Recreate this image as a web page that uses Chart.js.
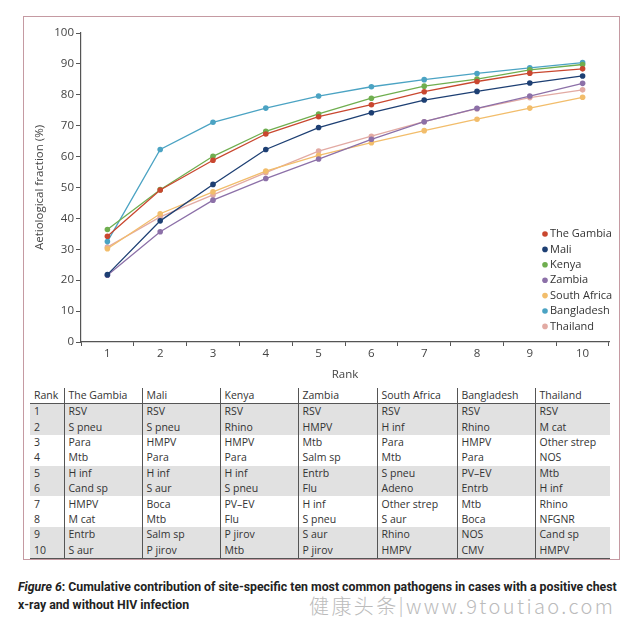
<!DOCTYPE html>
<html>
<head>
<meta charset="utf-8">
<script src="https://cdn.jsdelivr.net/npm/chart.js@4.4.1/dist/chart.umd.min.js"></script>
<style>
  html, body { margin: 0; padding: 0; background: #fff; }
  body { width: 640px; height: 617px; position: relative; overflow: hidden; font-family: "Open Sans", "Noto Sans", sans-serif; }
  #frame { position: absolute; left: 23px; top: 16px; width: 597px; height: 544px; border: 1px solid #c59aa2; box-sizing: border-box; }
  #chartCanvas { position: absolute; left: 0; top: 0; }
  #tbl { position: absolute; left: 30px; top: 388px; width: 580px; border-collapse: collapse; table-layout: fixed; font-size: 10.5px; color: #333; }
  #tbl th, #tbl td { padding: 0 0 0 4px; text-align: left; font-weight: normal; white-space: nowrap; line-height: 15px; }
  #tbl th { height: 15px; border-bottom: 1px solid #555; }
  #tbl td { height: 15.4px; }
  #tbl th + th, #tbl td + td { border-left: 1px solid #555; }
  #tbl tr.g td { background: #e1e1e1; }
  #tbl tr.last td { border-bottom: 1.5px solid #555; }
  #caption { position: absolute; left: 18px; top: 578px; width: 630px; font-family: "Roboto", sans-serif; font-weight: bold; font-size: 12.3px; line-height: 18px; color: #222; white-space: nowrap; }
  #caption i { font-style: italic; }
  #wm { position: absolute; left: 309px; top: 591px; font-family: "Noto Sans CJK SC", sans-serif; font-size: 20px; color: #bbbbbb; font-weight: 300; letter-spacing: 2.4px; white-space: nowrap; }
</style>
</head>
<body>
<div id="frame"></div>
<canvas id="chartCanvas" width="640" height="385"></canvas>
<table id="tbl"></table>
<div id="caption"><i>Figure 6</i>: Cumulative contribution of site-specific ten most common pathogens in cases with a positive chest<br>x-ray and without HIV infection</div>
<div id="wm">健康头条|www.9toutiao.com</div>
<script>
// ---- data ----
const ranks = ["1", "2", "3", "4", "5", "6", "7", "8", "9", "10"];
const countries = ["The Gambia", "Mali", "Kenya", "Zambia", "South Africa", "Bangladesh", "Thailand"];
const gambiaValues     = [34.2, 49.2, 58.8, 67.3, 72.9, 76.8, 81.0, 84.3, 87.0, 88.4];
const maliValues       = [21.8, 39.2, 51.0, 62.3, 69.4, 74.2, 78.3, 81.1, 83.8, 86.1];
const kenyaValues      = [36.4, 49.3, 60.1, 68.2, 73.8, 78.9, 82.8, 85.1, 88.1, 89.8];
const zambiaValues     = [21.6, 35.7, 45.9, 52.9, 59.2, 65.6, 71.3, 75.6, 79.6, 83.7];
const southAfricaValues= [30.2, 41.5, 48.6, 55.3, 60.4, 64.5, 68.4, 72.1, 75.7, 79.2];
const bangladeshValues = [32.5, 62.3, 71.1, 75.7, 79.6, 82.6, 84.9, 86.9, 88.7, 90.4];
const thailandValues   = [30.7, 40.5, 47.6, 54.8, 61.8, 66.6, 71.3, 75.5, 79.1, 81.6];
const yTicks = [0, 10, 20, 30, 40, 50, 60, 70, 80, 90, 100];

const tableHeader = ["Rank", "The Gambia", "Mali", "Kenya", "Zambia", "South Africa", "Bangladesh", "Thailand"];
const gambiaPathogens     = ["RSV", "S pneu", "Para", "Mtb", "H inf", "Cand sp", "HMPV", "M cat", "Entrb", "S aur"];
const maliPathogens       = ["RSV", "S pneu", "HMPV", "Para", "H inf", "S aur", "Boca", "Mtb", "Salm sp", "P jirov"];
const kenyaPathogens      = ["RSV", "Rhino", "HMPV", "Para", "H inf", "S pneu", "PV–EV", "Flu", "P jirov", "Mtb"];
const zambiaPathogens     = ["RSV", "HMPV", "Mtb", "Salm sp", "Entrb", "Flu", "H inf", "S pneu", "S aur", "P jirov"];
const southAfricaPathogens= ["RSV", "H inf", "Para", "Mtb", "S pneu", "Adeno", "Other strep", "S aur", "Rhino", "HMPV"];
const bangladeshPathogens = ["RSV", "Rhino", "HMPV", "Para", "PV–EV", "Entrb", "Mtb", "Boca", "NOS", "CMV"];
const thailandPathogens   = ["RSV", "M cat", "Other strep", "NOS", "Mtb", "H inf", "Rhino", "NFGNR", "Cand sp", "HMPV"];

// ---- table ----
const tbl = document.getElementById('tbl');
const colW = [34, 78, 78, 78, 79, 80, 78, 75];
const cg = document.createElement('colgroup');
colW.forEach(w => { const c = document.createElement('col'); c.style.width = w + 'px'; cg.appendChild(c); });
tbl.appendChild(cg);
const hr = document.createElement('tr');
tableHeader.forEach(h => { const th = document.createElement('th'); th.textContent = h; hr.appendChild(th); });
tbl.appendChild(hr);
const cols = [gambiaPathogens, maliPathogens, kenyaPathogens, zambiaPathogens, southAfricaPathogens, bangladeshPathogens, thailandPathogens];
const shaded = [true, true, false, false, true, true, false, false, true, true];
ranks.forEach((r, i) => {
  const tr = document.createElement('tr');
  if (shaded[i]) tr.classList.add('g');
  if (i === ranks.length - 1) tr.classList.add('last');
  const td0 = document.createElement('td'); td0.textContent = r; tr.appendChild(td0);
  cols.forEach(c => { const td = document.createElement('td'); td.textContent = c[i]; tr.appendChild(td); });
  tbl.appendChild(tr);
});

// ---- chart ----
const colors = ["#c9472f", "#1d3f73", "#6fae4f", "#8c70a8", "#f2bd6b", "#4ba3c3", "#e2aaa3"];
const series = [gambiaValues, maliValues, kenyaValues, zambiaValues, southAfricaValues, bangladeshValues, thailandValues];

const datasets = countries.map((c, i) => ({
  label: c,
  data: series[i],
  borderColor: colors[i],
  backgroundColor: colors[i],
  pointBackgroundColor: colors[i],
  pointBorderColor: colors[i],
  pointRadius: 2.8,
  pointBorderWidth: 0,
  borderWidth: 1.3,
  tension: 0
}));

const legendPlugin = {
  id: 'insideLegend',
  afterDraw(chart) {
    const ctx = chart.ctx;
    const a = chart.chartArea;
    const x0 = a.right - 64;
    let y = a.bottom - 108;
    ctx.save();
    ctx.font = '11px "Open Sans", sans-serif';
    ctx.textBaseline = 'middle';
    ctx.textAlign = 'left';
    chart.data.datasets.forEach(ds => {
      ctx.fillStyle = ds.borderColor;
      ctx.beginPath();
      ctx.arc(x0, y, 2.8, 0, Math.PI * 2);
      ctx.fill();
      ctx.fillStyle = '#333';
      ctx.fillText(ds.label, x0 + 5, y);
      y += 15.4;
    });
    ctx.restore();
  }
};

new Chart(document.getElementById('chartCanvas'), {
  type: 'line',
  data: { labels: ranks, datasets: datasets },
  options: {
    responsive: false,
    animation: false,
    devicePixelRatio: 1,
    layout: { padding: { left: 29, right: 31, top: 33, bottom: 3 } },
    plugins: { legend: { display: false }, tooltip: { enabled: false } },
    scales: {
      x: {
        type: 'category',
        offset: true,
        grid: { display: true, offset: true, drawOnChartArea: false, drawTicks: true, tickLength: 4, color: '#555' },
        border: { color: '#555', width: 1.2 },
        ticks: { color: '#444', font: { family: '"Open Sans", sans-serif', size: 11.5 }, padding: 1, maxRotation: 0 },
        title: { display: true, text: 'Rank', color: '#444', font: { family: '"Open Sans", sans-serif', size: 11.5 }, padding: { top: 3, bottom: 0 } },
        afterFit(s) { s.height = 40; }
      },
      y: {
        min: 0, max: 100,
        afterBuildTicks(s) { s.ticks = yTicks.map(v => ({ value: v })); },
        grid: { display: true, drawOnChartArea: false, drawTicks: true, tickLength: 5, color: '#555' },
        border: { color: '#555', width: 1.2 },
        ticks: { color: '#444', font: { family: '"Open Sans", sans-serif', size: 11.5 }, padding: 2 },
        title: { display: true, text: 'Aetiological fraction (%)', color: '#444', font: { family: '"Open Sans", sans-serif', size: 11.5 }, padding: { top: 4, bottom: 4 } },
        afterFit(s) { s.width = 52; }
      }
    }
  },
  plugins: [legendPlugin]
});
</script>
</body>
</html>
